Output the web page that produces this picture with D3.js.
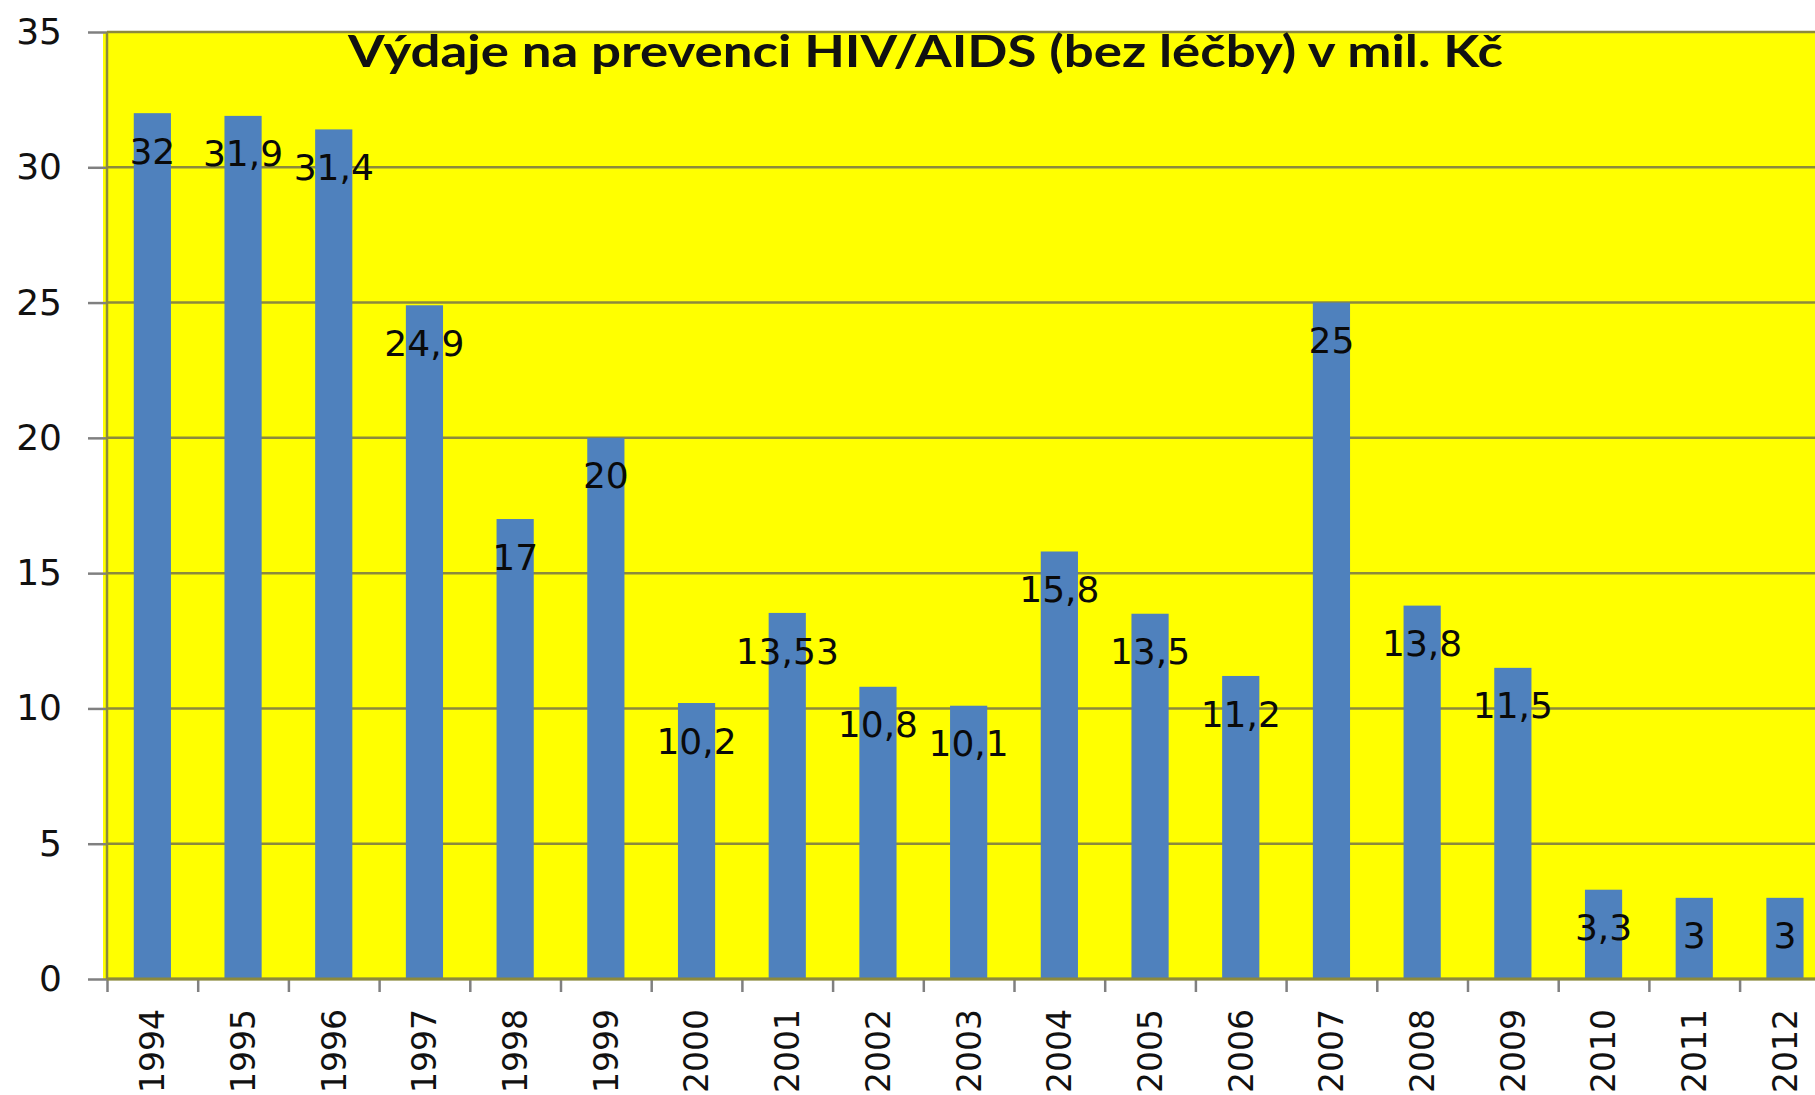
<!DOCTYPE html>
<html>
<head>
<meta charset="utf-8">
<script src="https://cdn.jsdelivr.net/npm/d3@7"></script>
<style>
  html, body { margin: 0; padding: 0; background: #ffffff; overflow: hidden; }
  svg { display: block; }
</style>
</head>
<body>
<svg id="chart" width="1815" height="1095"></svg>
<script>
// ---- data ----
const years = ["1994","1995","1996","1997","1998","1999","2000","2001","2002","2003","2004","2005","2006","2007","2008","2009","2010","2011","2012"];
const values = [32, 31.9, 31.4, 24.9, 17, 20, 10.2, 13.53, 10.8, 10.1, 15.8, 13.5, 11.2, 25, 13.8, 11.5, 3.3, 3, 3];
const yTicks = [0, 5, 10, 15, 20, 25, 30, 35];
const titleText = "Výdaje na prevenci HIV/AIDS (bez léčby) v mil. Kč";

(function () {
  // ---- layout ----
  const W = 1815, H = 1095;
  const pLeft = 107, pTop = 32, pBottom = 979;
  const step = 90.7;
  const pRight = pLeft + years.length * step; // extends past the picture edge

  const svg = d3.select("#chart");

  const x = d3.scaleBand().domain(years).range([pLeft, pRight]).paddingInner(0.59).paddingOuter(0.295);
  const xb = d3.scaleLinear().domain([0, years.length]).range([pLeft, pRight]);
  const y = d3.scaleLinear().domain([0, 35]).range([pBottom, pTop]);

  const gridCol = "#8c8a3c";
  const tickCol = "#808080";
  const font = "'DejaVu Sans', Verdana, sans-serif";

  // plot area
  svg.append("rect")
    .attr("x", pLeft - 4).attr("y", pTop)
    .attr("width", W - pLeft + 4).attr("height", pBottom - pTop)
    .attr("fill", "#ffff00");

  // y axis: ticks + labels
  const yAxis = svg.append("g")
    .attr("transform", `translate(${pLeft},0)`)
    .call(d3.axisLeft(y).tickValues(yTicks).tickSize(19).tickPadding(26).tickFormat(d3.format("d")));
  yAxis.select(".domain").remove();
  yAxis.selectAll(".tick line").attr("stroke", tickCol).attr("stroke-width", 2.5);
  yAxis.selectAll(".tick text")
    .attr("font-family", font).attr("font-size", 36).attr("fill", "#111");

  // gridlines
  svg.append("g").selectAll("line")
    .data(yTicks)
    .join("line")
    .attr("x1", pLeft).attr("x2", W)
    .attr("y1", d => y(d)).attr("y2", d => y(d))
    .attr("stroke", gridCol).attr("stroke-width", 2.5);

  // vertical axis line
  svg.append("line")
    .attr("x1", pLeft).attr("x2", pLeft)
    .attr("y1", pTop).attr("y2", pBottom)
    .attr("stroke", gridCol).attr("stroke-width", 2.5);

  // bars
  svg.append("g").selectAll("rect")
    .data(values)
    .join("rect")
    .attr("x", (d, i) => x(years[i]))
    .attr("width", x.bandwidth())
    .attr("y", d => y(d))
    .attr("height", d => y(0) - y(d))
    .attr("fill", "#4f81bd");

  // x axis boundary ticks
  const xTickAxis = svg.append("g")
    .attr("transform", `translate(0,${pBottom})`)
    .call(d3.axisBottom(xb).tickValues(d3.range(years.length + 1)).tickSize(13).tickFormat(""));
  xTickAxis.select(".domain").remove();
  xTickAxis.selectAll(".tick line").attr("stroke", tickCol).attr("stroke-width", 2.5);

  // axis baseline
  svg.append("line")
    .attr("x1", pLeft).attr("x2", W)
    .attr("y1", pBottom).attr("y2", pBottom)
    .attr("stroke", gridCol).attr("stroke-width", 3);

  // x labels (rotated)
  const xLab = svg.append("g")
    .attr("transform", `translate(0,${pBottom})`)
    .call(d3.axisBottom(x).tickSize(0).tickPadding(0));
  xLab.select(".domain").remove();
  xLab.selectAll(".tick text")
    .attr("font-family", font).attr("font-size", 33).attr("fill", "#111")
    .attr("text-anchor", "end")
    .attr("y", 0)
    .attr("dy", "0.36em")
    .attr("transform", "translate(0,30) rotate(-90)");

  // data labels
  const fmt = v => String(v).replace(".", ",");
  svg.append("g").selectAll("text")
    .data(values)
    .join("text")
    .attr("x", (d, i) => x(years[i]) + x.bandwidth() / 2)
    .attr("y", d => y(d) + 38)
    .attr("dy", "0.35em")
    .attr("text-anchor", "middle")
    .attr("font-family", font).attr("font-size", 36).attr("fill", "#0a0a0a")
    .text(d => fmt(d));

  // title
  svg.append("text")
    .attr("x", 348).attr("y", 67)
    .attr("font-family", "Lato, 'Open Sans', sans-serif")
    .attr("font-weight", 700).attr("font-size", 44)
    .attr("textLength", 1155).attr("lengthAdjust", "spacingAndGlyphs")
    .attr("fill", "#111")
    .text(titleText);
})();
</script>
</body>
</html>
